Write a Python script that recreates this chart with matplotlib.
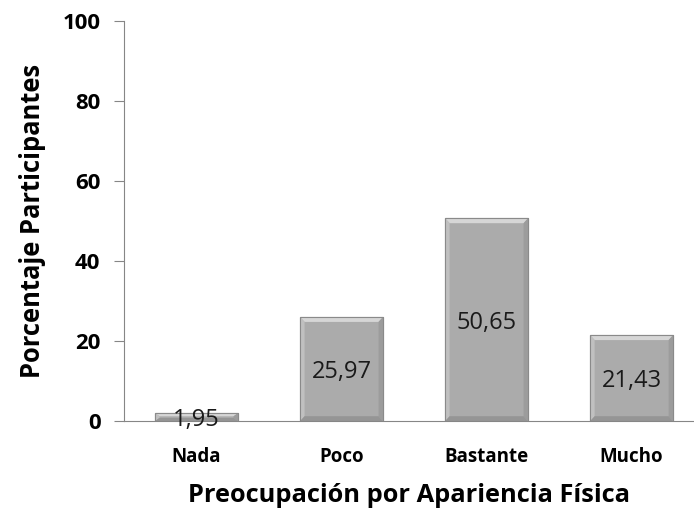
import matplotlib
matplotlib.use("Agg")
import matplotlib.pyplot as plt
from matplotlib.patches import Polygon

categories = ["Nada", "Poco", "Bastante", "Mucho"]
values = [1.95, 25.97, 50.65, 21.43]
value_labels = ["1,95", "25,97", "50,65", "21,43"]
yticks = [0, 20, 40, 60, 80, 100]

plt.rcParams['font.family'] = ['Open Sans', 'DejaVu Sans']

fig = plt.figure(figsize=(6.94, 5.2), dpi=100)
ax = fig.add_axes([124/694, 1-421/520, (694-124)/694, 400/520])

width = 0.57
x = list(range(len(categories)))
bars = ax.bar(x, values, width=width, color='#ababab', edgecolor='#8a8a8a', linewidth=0.8, zorder=3)

# bevel effect
bx, by = 0.03, 1.2
for b in bars:
    x0, y0 = b.get_x(), b.get_y()
    w, h = b.get_width(), b.get_height()
    x1, y1 = x0 + w, y0 + h
    ey = min(by, h / 2.5)
    top = Polygon([[x0, y1], [x1, y1], [x1 - bx, y1 - ey], [x0 + bx, y1 - ey]], closed=True,
                  facecolor='#d6d6d6', edgecolor='none', zorder=4)
    left = Polygon([[x0, y0], [x0, y1], [x0 + bx, y1 - ey], [x0 + bx, y0 + ey]], closed=True,
                   facecolor='#c0c0c0', edgecolor='none', zorder=4)
    right = Polygon([[x1, y0], [x1, y1], [x1 - bx, y1 - ey], [x1 - bx, y0 + ey]], closed=True,
                    facecolor='#9c9c9c', edgecolor='none', zorder=4)
    bot = Polygon([[x0, y0], [x1, y0], [x1 - bx, y0 + ey], [x0 + bx, y0 + ey]], closed=True,
                  facecolor='#959595', edgecolor='none', zorder=4)
    for p in (top, left, right, bot):
        ax.add_patch(p)
    rect = plt.Rectangle((x0, y0), w, h, fill=False, edgecolor='#8a8a8a', linewidth=0.8, zorder=5)
    ax.add_patch(rect)

for xi, v, lab in zip(x, values, value_labels):
    ax.text(xi, max(v / 2, 0.9), lab, ha='center', va='center_baseline', fontsize=17,
            color='#1a1a1a', zorder=6)

ax.set_ylim(0, 100)
ax.set_xlim(-0.5, 3.43)
ax.set_yticks(yticks)
ax.set_yticklabels([str(t) for t in yticks], fontsize=16, fontweight='bold')
ax.set_xticks(x)
ax.set_xticklabels(categories, fontsize=13.5, fontweight='bold')
ax.tick_params(axis='x', length=0, pad=19)
ax.tick_params(axis='y', length=7, direction='out', color='#868686', pad=10)

for s in ['top', 'right']:
    ax.spines[s].set_visible(False)
ax.spines['left'].set_color('#868686')
ax.spines['bottom'].set_color('#868686')

ax.set_ylabel("Porcentaje Participantes", fontsize=18.4, fontweight='bold', labelpad=12)
ax.set_xlabel("Preocupación por Apariencia Física", fontsize=18.3, fontweight='bold', labelpad=11)

fig.savefig("out.png", dpi=100)
